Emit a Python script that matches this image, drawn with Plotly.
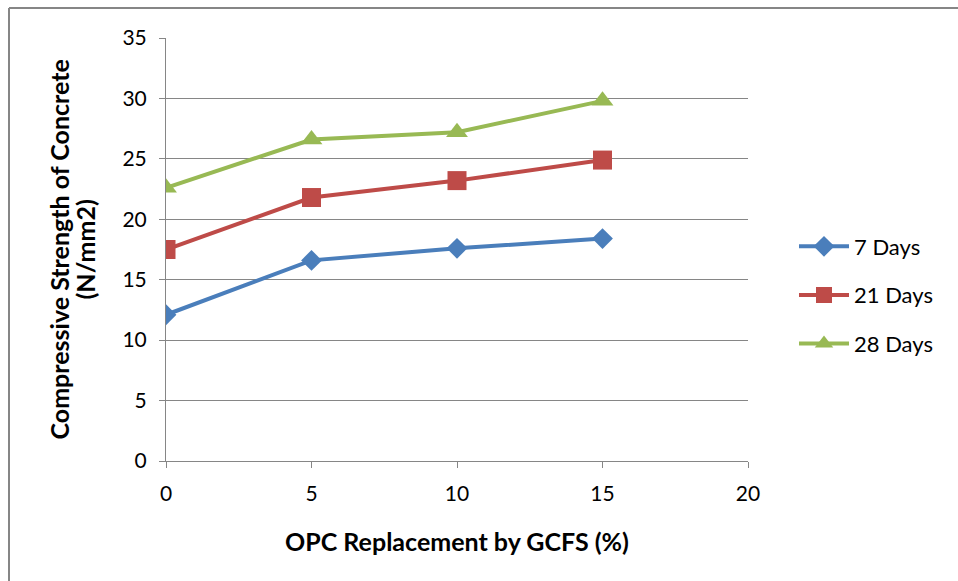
import plotly.graph_objects as go

replacement = [0, 5, 10, 15]
days7 = [12.1, 16.6, 17.6, 18.4]
days21 = [17.5, 21.8, 23.2, 24.9]
days28 = [22.6, 26.6, 27.2, 29.8]
series_names = ["7 Days", "21 Days", "28 Days"]
y_title_lines = ["Compressive Strength of Concrete", "(N/mm2)"]
x_title = "OPC Replacement by GCFS (%)"

W, H = 958, 581
L, R, T, B = 166, 210, 38, 120
pw, ph = W - L - R, H - T - B

fig = go.Figure()
styles = [
    ("#4a7ebb", "diamond", 16),
    ("#be4b48", "square", 19),
    ("#98b954", "triangle-up", 19),
]
for name, vals, (col, sym, sz) in zip(series_names, [days7, days21, days28], styles):
    fig.add_trace(go.Scatter(
        x=replacement, y=vals, name=name, mode="lines+markers",
        line=dict(color=col, width=4),
        marker=dict(symbol=sym, size=sz, color=col),
        legendgroup=name,
    ))

font = "Lato, 'Open Sans', sans-serif"
fig.update_layout(
    width=W, height=H,
    margin=dict(l=L, r=R, t=T, b=B),
    paper_bgcolor="white", plot_bgcolor="white",
    font=dict(family=font, size=21, color="black"),
    showlegend=True,
    legend=dict(x=(794 - L) / pw, y=(H - B - 295) / ph, xanchor="left", yanchor="middle",
                font=dict(size=22), tracegroupgap=17, traceorder="grouped",
                itemwidth=50),
    xaxis=dict(range=[0, 20], dtick=5, showgrid=False, showline=True,
               linecolor="#868686", linewidth=1, ticks="outside", ticklen=6,
               tickcolor="#868686", zeroline=False, ticklabelstandoff=8,
               title=dict(text="<b>" + x_title + "</b>", standoff=29,
                          font=dict(size=25))),
    yaxis=dict(range=[0, 35], dtick=5, showgrid=True, gridcolor="#868686",
               gridwidth=1, showline=True, linecolor="#868686", linewidth=1,
               ticks="outside", ticklen=6, tickcolor="#868686", zeroline=False,
               ticklabelstandoff=8),
)

for line_text, xc in zip(y_title_lines, [58, 84]):
    fig.add_annotation(text="<b>" + line_text + "</b>", textangle=-90,
                       xref="paper", yref="paper", x=(xc - L) / pw, y=0.5,
                       xanchor="center", yanchor="middle", showarrow=False,
                       font=dict(size=25, family=font, color="black"))

# chart-area border: only the top and left edges fall inside the picture
border = dict(color="#868686", width=2)
fig.add_shape(type="line", xref="paper", yref="paper",
              x0=(9 - L) / pw, x1=(W + 50 - L) / pw,
              y0=(H - B - 8) / ph, y1=(H - B - 8) / ph, line=border, layer="below")
fig.add_shape(type="line", xref="paper", yref="paper",
              x0=(9 - L) / pw, x1=(9 - L) / pw,
              y0=(H - B - 8) / ph, y1=(H - B - (H + 50)) / ph, line=border, layer="below")

fig.write_html("out.html",
               config={"displayModeBar": False},
               post_script="document.body.style.margin='0';"
                           "document.body.style.overflow='hidden';")
